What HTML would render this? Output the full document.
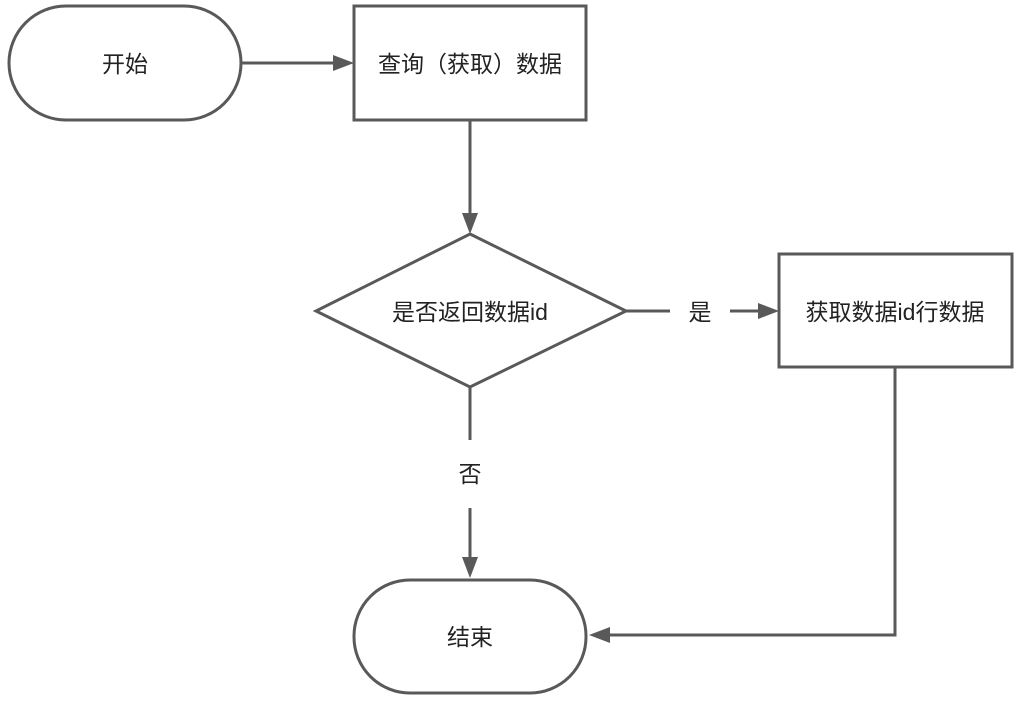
<!DOCTYPE html>
<html><head><meta charset="utf-8"><style>
html,body{margin:0;padding:0;background:#fff;}
svg text{font-family:"Liberation Sans","Noto Sans CJK SC",sans-serif;font-size:23px;fill:#222;}
</style></head><body>
<svg width="1020" height="700" viewBox="0 0 1020 700">
<g fill="none" stroke="#595959" stroke-width="3">
<rect x="9" y="6" width="232" height="114" rx="57"/>
<rect x="354" y="6" width="232" height="114"/>
<polygon points="470,234 626,311 470,387 316,311"/>
<rect x="779" y="254" width="233" height="113"/>
<rect x="354" y="580" width="232" height="113" rx="56"/>
<line x1="241" y1="63" x2="336" y2="63"/>
<line x1="470" y1="120" x2="470" y2="216"/>
<line x1="626" y1="311" x2="670" y2="311"/>
<line x1="730" y1="311" x2="762" y2="311"/>
<polyline points="895,367 895,635 608,635"/>
<line x1="470" y1="387" x2="470" y2="440"/>
<line x1="470" y1="508" x2="470" y2="560"/>
</g>
<g fill="#595959">
<polygon points="354,63 333,55 333,71"/>
<polygon points="470,234 462,213 478,213"/>
<polygon points="779,311 758,303 758,319"/>
<polygon points="589,635 610,627 610,643"/>
<polygon points="470,578 462,557 478,557"/>
</g>
<g text-anchor="middle">
<text x="125" y="72">开始</text>
<text x="470" y="72">查询（获取）数据</text>
<text x="470" y="320">是否返回数据id</text>
<text x="700" y="320">是</text>
<text x="895" y="320">获取数据id行数据</text>
<text x="470" y="482">否</text>
<text x="470" y="645">结束</text>
</g>
</svg>
</body></html>
